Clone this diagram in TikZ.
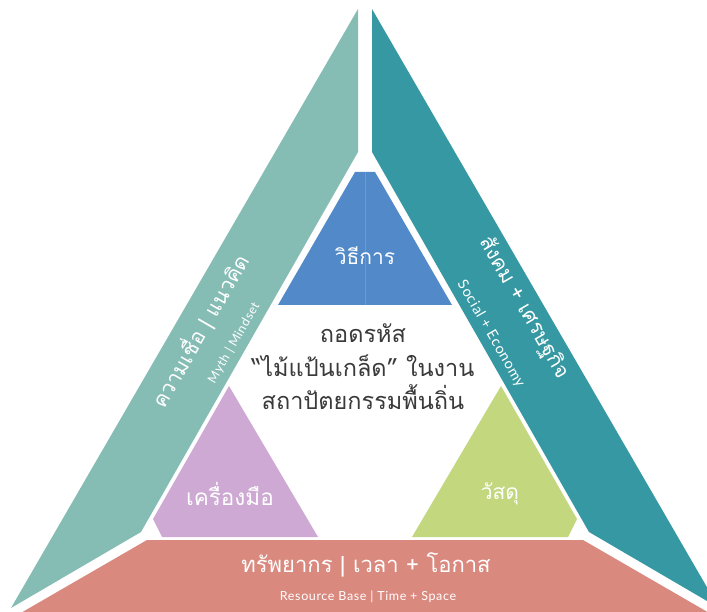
\documentclass[tikz,border=0pt]{standalone}
\usepackage{fontspec}
\newfontfamily\thaifont[Script=Thai]{Loma}
\newfontfamily\enfont[LetterSpace=5]{Lato}
\definecolor{bandL}{HTML}{85BDB5}
\definecolor{bandR}{HTML}{3598A2}
\definecolor{blueT}{HTML}{5289C9}
\definecolor{blueL}{HTML}{6A9AD2}
\definecolor{purpleT}{HTML}{CDA9D3}
\definecolor{greenT}{HTML}{C3D77F}
\definecolor{salmonT}{HTML}{DA897F}
\definecolor{darktext}{HTML}{3A3A3A}
\begin{document}
\begin{tikzpicture}[x=1pt,y=-1pt,
  wtxt/.style={text=white, inner sep=0pt},
  thaiL/.style={font=\thaifont\fontsize{21}{21}\selectfont},
  thaiM/.style={font=\thaifont\fontsize{21}{21}\selectfont}]
\clip (0,0) rectangle (707,612);
\fill[white] (0,0) rectangle (707,612);
% bands
\fill[bandL] (358,9) -- (358,152) -- (141,532) -- (11,608) -- cycle;
\fill[bandR] (372,9) -- (372,152) -- (589,532) -- (719,608) -- cycle;
\fill[salmonT] (147,540) -- (583,540) -- (730,625) -- (0,625) -- cycle;
% inner triangles
\fill[blueT] (355,172) -- (375,172) -- (452,305) -- (278,305) -- cycle;
\draw[blueL, line width=0.6pt] (365,172) -- (365,305);
\fill[purpleT] (229,386) -- (318,537) -- (162,537) -- (153,519) -- cycle;
\fill[greenT] (501,386) -- (577,519) -- (568,537) -- (412,537) -- cycle;
% texts
\node[wtxt, thaiL, rotate=60] (belief) at (200,331) {ความเชื่อ | แนวคิด};
\node[wtxt, font=\enfont\fontsize{12.5}{12.5}\selectfont, rotate=60] (myth) at (234,343) {Myth | Mindset};
\node[wtxt, thaiL, rotate=-60] (social) at (524,308) {สังคม + เศรษฐกิจ};
\node[wtxt, font=\enfont\fontsize{14.5}{14.5}\selectfont, rotate=-60] (socialEn) at (491,334) {Social + Economy};
\node[wtxt, thaiM] (method) at (365,256) {วิธีการ};
\node[text=darktext, inner sep=0pt, align=center, font=\thaifont\fontsize{23.5}{33.5}\selectfont] (title) at (363,367) {ถอดรหัส\\“ไม้แป้นเกล็ด” ในงาน\\สถาปัตยกรรมพื้นถิ่น};
\node[wtxt, font=\thaifont\fontsize{22.5}{22.5}\selectfont] (tool) at (230,494) {เครื่องมือ};
\node[wtxt, thaiM] (material) at (500,494) {วัสดุ};
\node[wtxt, font=\thaifont\fontsize{22}{22}\selectfont] (resource) at (366,565) {ทรัพยากร | เวลา + โอกาส};
\node[wtxt, font=\enfont\fontsize{12.5}{12.5}\selectfont] (resourceEn) at (368,597) {Resource Base | Time + Space};
\end{tikzpicture}
\end{document}
